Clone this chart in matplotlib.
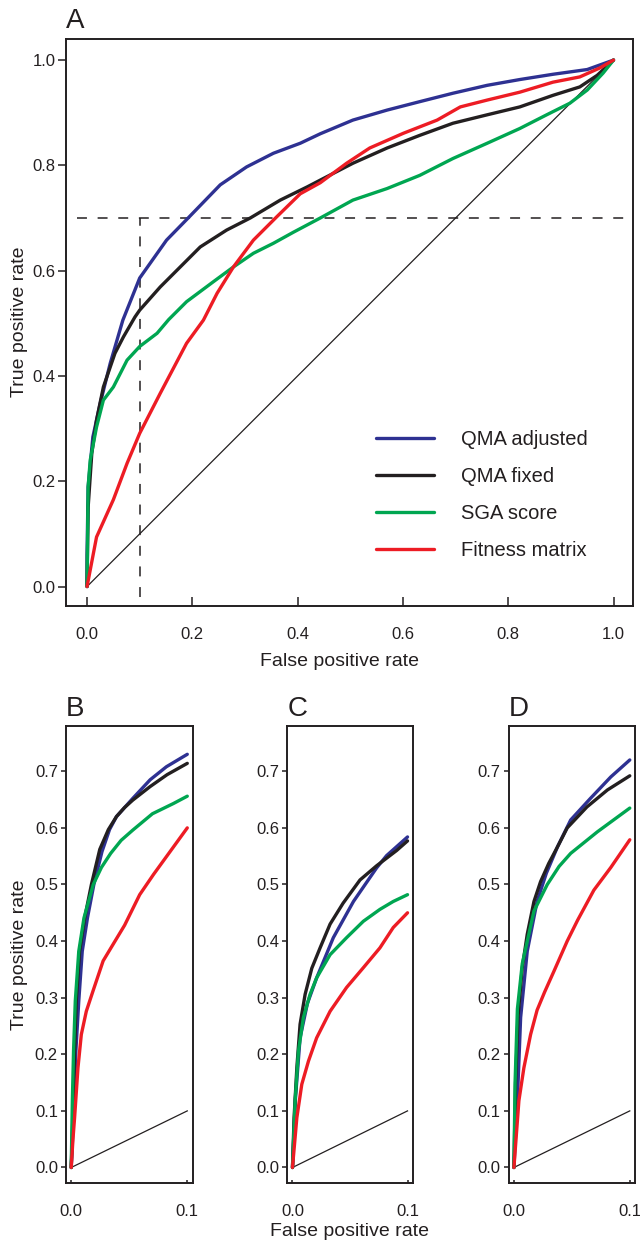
import matplotlib
matplotlib.use("Agg")
import matplotlib.pyplot as plt

plt.rcParams['font.family'] = ['Liberation Sans', 'DejaVu Sans']

# ---------------- data ----------------
series_names = ["QMA adjusted", "QMA fixed", "SGA score", "Fitness matrix"]
series_colors = ["#2E3192", "#231F20", "#00A651", "#ED1C24"]

# Panel A (full ROC)
a_blue_x = [0, 0.0, 0.002, 0.011, 0.025, 0.044, 0.068, 0.1, 0.151, 0.192, 0.253, 0.303, 0.354, 0.405, 0.443,
            0.505, 0.570, 0.632, 0.695, 0.760, 0.822, 0.885, 0.950, 1.0]
a_blue_y = [0, 0.06, 0.189, 0.284, 0.348, 0.424, 0.506, 0.586, 0.658, 0.70, 0.763, 0.797, 0.823, 0.842, 0.860,
            0.886, 0.905, 0.921, 0.937, 0.952, 0.963, 0.973, 0.982, 1.0]
a_black_x = [0, 0.002, 0.009, 0.018, 0.031, 0.053, 0.069, 0.091, 0.1, 0.139, 0.177, 0.215, 0.265, 0.310, 0.367,
             0.418, 0.443, 0.505, 0.570, 0.632, 0.695, 0.760, 0.822, 0.885, 0.936, 0.969, 1.0]
a_black_y = [0, 0.15, 0.253, 0.316, 0.379, 0.443, 0.474, 0.512, 0.525, 0.569, 0.607, 0.645, 0.677, 0.70, 0.734,
             0.759, 0.772, 0.804, 0.833, 0.857, 0.880, 0.896, 0.911, 0.933, 0.949, 0.971, 1.0]
a_green_x = [0, 0.002, 0.006, 0.018, 0.031, 0.050, 0.076, 0.1, 0.133, 0.155, 0.189, 0.240, 0.278, 0.316, 0.354,
             0.392, 0.443, 0.505, 0.570, 0.632, 0.695, 0.760, 0.822, 0.873, 0.917, 0.950, 0.980, 1.0]
a_green_y = [0, 0.189, 0.24, 0.303, 0.354, 0.379, 0.430, 0.456, 0.481, 0.507, 0.541, 0.579, 0.607, 0.633, 0.652,
             0.673, 0.70, 0.734, 0.756, 0.781, 0.813, 0.842, 0.870, 0.896, 0.918, 0.943, 0.975, 1.0]
a_red_x = [0, 0.018, 0.050, 0.076, 0.1, 0.139, 0.189, 0.221, 0.247, 0.278, 0.316, 0.360, 0.405, 0.443, 0.493,
           0.537, 0.601, 0.665, 0.709, 0.760, 0.822, 0.885, 0.936, 0.974, 1.0]
a_red_y = [0, 0.094, 0.165, 0.234, 0.291, 0.367, 0.462, 0.506, 0.557, 0.607, 0.658, 0.702, 0.746, 0.767, 0.804,
           0.833, 0.861, 0.886, 0.911, 0.924, 0.939, 0.958, 0.968, 0.985, 1.0]

# Panel B (zoom to FPR <= 0.1)
b_blue_x = [0, 0.002, 0.004, 0.0065, 0.0095, 0.014, 0.0195, 0.0265, 0.033, 0.039, 0.053, 0.068, 0.082, 0.1]
b_blue_y = [0, 0.088, 0.206, 0.294, 0.382, 0.441, 0.5, 0.558, 0.597, 0.62, 0.652, 0.685, 0.708, 0.73]
b_black_x = [0, 0.0014, 0.0029, 0.0043, 0.0072, 0.0116, 0.0174, 0.0246, 0.032, 0.039, 0.046, 0.053, 0.068,
             0.0826, 0.1]
b_black_y = [0, 0.088, 0.206, 0.294, 0.382, 0.441, 0.5, 0.562, 0.597, 0.62, 0.636, 0.649, 0.673, 0.694, 0.714]
b_green_x = [0, 0.001, 0.002, 0.0035, 0.0065, 0.011, 0.019, 0.026, 0.034, 0.043, 0.053, 0.070, 0.088, 0.1]
b_green_y = [0, 0.12, 0.206, 0.294, 0.382, 0.441, 0.5, 0.53, 0.555, 0.578, 0.596, 0.625, 0.643, 0.656]
b_red_x = [0, 0.0015, 0.0029, 0.0058, 0.0087, 0.013, 0.0188, 0.0275, 0.036, 0.046, 0.059, 0.071, 0.0855, 0.1]
b_red_y = [0, 0.05, 0.088, 0.176, 0.235, 0.276, 0.312, 0.365, 0.394, 0.428, 0.482, 0.518, 0.559, 0.60]

# Panel C
c_blue_x = [0, 0.0025, 0.0066, 0.013, 0.021, 0.0355, 0.053, 0.073, 0.0818, 0.1]
c_blue_y = [0, 0.12, 0.229, 0.29, 0.335, 0.406, 0.47, 0.529, 0.551, 0.584]
c_black_x = [0, 0.0014, 0.0038, 0.0066, 0.011, 0.0168, 0.024, 0.0327, 0.044, 0.0587, 0.0731, 0.0905, 0.1]
c_black_y = [0, 0.088, 0.176, 0.253, 0.306, 0.352, 0.388, 0.430, 0.467, 0.508, 0.533, 0.560, 0.577]
c_green_x = [0, 0.0023, 0.0052, 0.0095, 0.0153, 0.021, 0.0327, 0.047, 0.0616, 0.076, 0.0876, 0.1]
c_green_y = [0, 0.118, 0.206, 0.265, 0.306, 0.335, 0.376, 0.406, 0.435, 0.456, 0.47, 0.482]
c_red_x = [0, 0.0038, 0.0081, 0.0139, 0.021, 0.0327, 0.047, 0.0616, 0.076, 0.0876, 0.1]
c_red_y = [0, 0.088, 0.147, 0.188, 0.229, 0.276, 0.318, 0.353, 0.388, 0.424, 0.45]

# Panel D
d_blue_x = [0, 0.003, 0.0058, 0.0115, 0.020, 0.028, 0.0375, 0.049, 0.066, 0.0836, 0.1]
d_blue_y = [0, 0.12, 0.265, 0.382, 0.47, 0.52, 0.566, 0.614, 0.652, 0.69, 0.72]
d_black_x = [0, 0.0014, 0.0035, 0.0072, 0.0115, 0.0173, 0.023, 0.030, 0.0375, 0.046, 0.063, 0.0807, 0.1]
d_black_y = [0, 0.147, 0.265, 0.353, 0.412, 0.47, 0.505, 0.537, 0.566, 0.6, 0.637, 0.667, 0.692]
d_green_x = [0, 0.001, 0.003, 0.0072, 0.0173, 0.0288, 0.039, 0.049, 0.072, 0.1]
d_green_y = [0, 0.15, 0.28, 0.36, 0.453, 0.5, 0.532, 0.555, 0.593, 0.635]
d_red_x = [0, 0.0043, 0.0086, 0.0144, 0.02, 0.0265, 0.0346, 0.046, 0.055, 0.069, 0.0836, 0.1]
d_red_y = [0, 0.118, 0.176, 0.235, 0.278, 0.31, 0.347, 0.40, 0.437, 0.49, 0.53, 0.579]

a_ticks = [0.0, 0.2, 0.4, 0.6, 0.8, 1.0]
small_yticks = [0.0, 0.1, 0.2, 0.3, 0.4, 0.5, 0.6, 0.7]
small_xticks = [0.0, 0.1]
cutoff_fpr = 0.1
cutoff_tpr = 0.7

# ---------------- figure ----------------
W, H = 640, 1245
fig = plt.figure(figsize=(W / 100, H / 100), dpi=100)
INK = "#231F20"


def px_axes(l, t, r, b):
    return fig.add_axes([l / W, 1 - b / H, (r - l) / W, (b - t) / H])


def style(ax, xlen, ylen, pad_x):
    for s in ax.spines.values():
        s.set_linewidth(1.4)
        s.set_color(INK)
    ax.tick_params(axis="x", direction="in", length=xlen, width=1.1, pad=pad_x,
                   labelsize=12, colors=INK)
    ax.tick_params(axis="y", direction="out", length=ylen, width=1.1, pad=2,
                   labelsize=12, colors=INK)


lw = 2.4

# Panel A
axA = px_axes(66, 39, 633, 606)
for (xs, ys), c, n in zip([(a_blue_x, a_blue_y), (a_black_x, a_black_y),
                           (a_green_x, a_green_y), (a_red_x, a_red_y)], series_colors, series_names):
    axA.plot(xs, ys, color=c, lw=lw, label=n, solid_capstyle="round", solid_joinstyle="round", zorder=3)
axA.plot([0, 1], [0, 1], color=INK, lw=0.9, zorder=2)
axA.plot([-0.02, 1.04], [cutoff_tpr, cutoff_tpr], color=INK, lw=1.1, ls=(0, (6.5, 7)), zorder=1)
axA.plot([cutoff_fpr, cutoff_fpr], [-0.02, cutoff_tpr], color=INK, lw=1.1, ls=(0, (6.5, 7)), zorder=1)
axA.set_xlim(-0.04, 1.037)
axA.set_ylim(-0.037, 1.04)
axA.set_xticks(a_ticks)
axA.set_yticks(a_ticks)
axA.set_xticklabels([f"{v:.1f}" for v in a_ticks])
axA.set_yticklabels([f"{v:.1f}" for v in a_ticks])
style(axA, 6.5, 5.5, 15)
leg = axA.legend(loc="upper left", bbox_to_anchor=(376 / W, 1 - 430 / H), bbox_transform=fig.transFigure,
                 frameon=False, fontsize=14.5, handlelength=2.9, handletextpad=1.3,
                 labelspacing=0.9, borderpad=0, borderaxespad=0)
for t in leg.get_texts():
    t.set_color(INK)

# Bottom panels
small = [
    ("B", 66, 192.5, [(b_blue_x, b_blue_y), (b_black_x, b_black_y), (b_green_x, b_green_y), (b_red_x, b_red_y)]),
    ("C", 287.3, 412.7, [(c_blue_x, c_blue_y), (c_black_x, c_black_y), (c_green_x, c_green_y), (c_red_x, c_red_y)]),
    ("D", 508.7, 635, [(d_blue_x, d_blue_y), (d_black_x, d_black_y), (d_green_x, d_green_y), (d_red_x, d_red_y)]),
]
for letter, l, r, data in small:
    ax = px_axes(l, 726, r, 1183)
    for (xs, ys), c in zip(data, series_colors):
        ax.plot(xs, ys, color=c, lw=lw, solid_capstyle="round", solid_joinstyle="round", zorder=3)
    ax.plot([0, 0.1], [0, 0.1], color=INK, lw=0.9, zorder=2)
    ax.set_xlim(-0.0045, 0.1045)
    ax.set_ylim(-0.0274, 0.78)
    ax.set_xticks(small_xticks)
    ax.set_yticks(small_yticks)
    ax.set_xticklabels([f"{v:.1f}" for v in small_xticks])
    ax.set_yticklabels([f"{v:.1f}" for v in small_yticks])
    style(ax, 2.5, 3.8, 15)
    fig.text(l / W, 1 - 722 / H, letter, fontsize=20, color=INK, ha="left", va="bottom")

fig.text(66 / W, 1 - 34 / H, "A", fontsize=20, color=INK, ha="left", va="bottom")

# axis labels
fig.text(20 / W, 1 - 322 / H, "True positive rate", rotation=90, fontsize=14, color=INK,
         ha="center", va="center")
fig.text(20 / W, 1 - 955 / H, "True positive rate", rotation=90, fontsize=14, color=INK,
         ha="center", va="center")
fig.text(340 / W, 1 - 661 / H, "False positive rate", fontsize=14, color=INK, ha="center", va="center")
fig.text(350 / W, 1 - 1232 / H, "False positive rate", fontsize=14, color=INK, ha="center", va="center")

fig.savefig("out.png", dpi=100)
